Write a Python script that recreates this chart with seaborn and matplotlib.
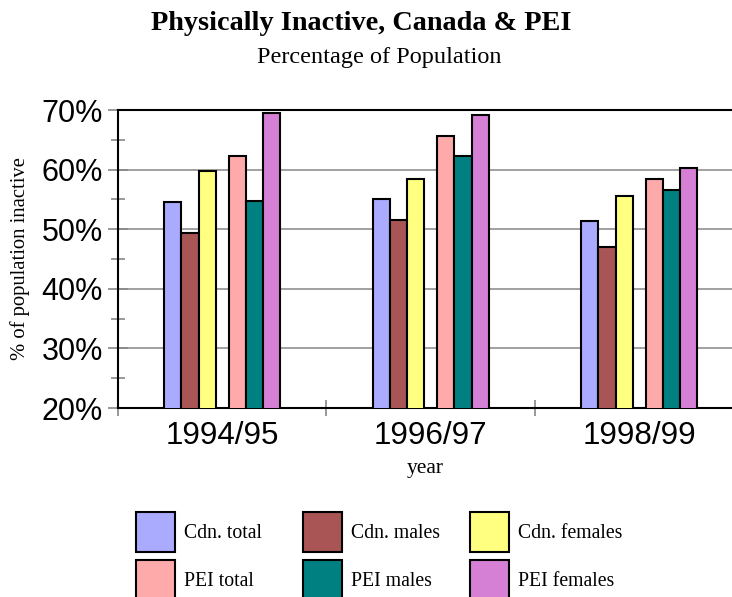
import matplotlib
matplotlib.use("Agg")
import matplotlib.pyplot as plt
import seaborn as sns
import pandas as pd
from matplotlib.patches import Patch
from matplotlib.ticker import FuncFormatter, MultipleLocator

years = ["1994/95", "1996/97", "1998/99"]
series = ["Cdn. total", "Cdn. males", "Cdn. females", "PEI total", "PEI males", "PEI females"]
cdn_total = [54.6, 55.1, 51.3]
cdn_males = [49.4, 51.6, 47.0]
cdn_females = [59.8, 58.5, 55.6]
pei_total = [62.3, 65.7, 58.4]
pei_males = [54.8, 62.3, 56.5]
pei_females = [69.5, 69.2, 60.3]
colors = ["#AAAAFF", "#AA5555", "#FFFF80", "#FFAAAA", "#008080", "#D580D5"]

values = [cdn_total, cdn_males, cdn_females, pei_total, pei_males, pei_females]
rows = []
for s, vals in zip(series, values):
    for y, v in zip(years, vals):
        rows.append({"year": y, "series": s, "value": v})
df = pd.DataFrame(rows)

# a blank hue slot separates the Canadian and PEI bars
gap = " "
hue_order = series[:3] + [gap] + series[3:]
palette = dict(zip(series, colors))
palette[gap] = "white"

fig = plt.figure(figsize=(7.32, 5.97), dpi=100)
ax = fig.add_axes([118 / 732, 1 - 408 / 597, 614 / 732, 298 / 597])

sns.barplot(data=df, x="year", y="value", hue="series", hue_order=hue_order,
            order=years, palette=palette, width=0.58, edgecolor="black",
            linewidth=1.5, saturation=1, ax=ax, legend=False, zorder=3)

# narrow the blank slot slightly: nudge each sub-group toward the centre
for p in ax.patches:
    cx = p.get_x() + p.get_width() / 2
    off = cx - round(cx)
    if off < -1e-6:
        p.set_x(p.get_x() + 0.011)
    elif off > 1e-6:
        p.set_x(p.get_x() - 0.011)

ax.set_ylim(20, 70)
ax.set_xlim(-0.5, 2.445)
ax.yaxis.set_major_locator(MultipleLocator(10))
ax.yaxis.set_minor_locator(MultipleLocator(5))
ax.yaxis.set_major_formatter(FuncFormatter(lambda v, p: f"{v:.0f}%"))
ax.grid(axis="y", which="major", color="#999999", linewidth=1.3, zorder=0)
ax.set_axisbelow(True)

ax.tick_params(axis="y", which="major", direction="inout", length=14, width=1.2,
               color="#888888", labelsize=22, pad=4)
ax.tick_params(axis="y", which="minor", direction="inout", length=10, width=1.2,
               color="#888888")
for lab in ax.get_yticklabels():
    lab.set_fontfamily("Liberation Sans")

ax.set_xticks([0, 1, 2])
ax.set_xticklabels(years, fontfamily="Liberation Sans", fontsize=22.6)
ax.set_xticks([-0.5, 0.5, 1.5], minor=True)
ax.tick_params(axis="x", which="major", length=0, pad=9)
ax.tick_params(axis="x", which="minor", direction="inout", length=12, width=1.2,
               color="#888888")

for side in ["left", "bottom", "top"]:
    ax.spines[side].set_color("black")
    ax.spines[side].set_linewidth(1.5)
ax.spines["right"].set_visible(False)

ax.set_xlabel("year", fontfamily="Liberation Serif", fontsize=15.5, labelpad=6)
ax.set_ylabel("% of population inactive", fontfamily="Liberation Serif",
              fontsize=14.9, labelpad=8)

fig.text(361 / 732, 1 - 23 / 597, "Physically Inactive, Canada & PEI",
         ha="center", va="center", fontfamily="Liberation Serif",
         fontweight="bold", fontsize=20.3)
fig.text(379 / 732, 1 - 57 / 597, "Percentage of Population",
         ha="center", va="center", fontfamily="Liberation Serif", fontsize=17.5)

# legend: three columns of two entries each
col_x = [136, 303, 470]
for i, x in enumerate(col_x):
    idx = [i, i + 3]
    handles = [Patch(facecolor=colors[j], edgecolor="black", linewidth=1.5) for j in idx]
    labels = [series[j] for j in idx]
    fig.legend(handles, labels, loc="upper left",
               bbox_to_anchor=(x / 732, 1 - 512 / 597), frameon=False,
               prop={"family": "Liberation Serif", "size": 14.2},
               handlelength=2.0, handleheight=2.75, handletextpad=0.45,
               labelspacing=0.4, borderpad=0, borderaxespad=0)

fig.savefig("out.png", dpi=100)
